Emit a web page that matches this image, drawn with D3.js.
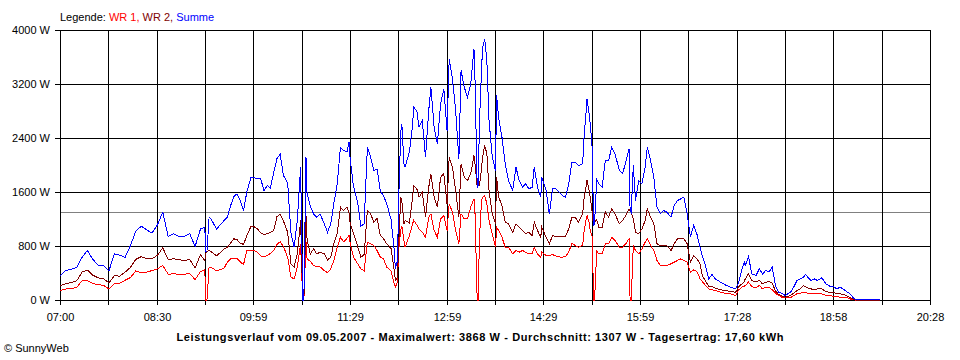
<!DOCTYPE html>
<html><head><meta charset="utf-8">
<script src="https://cdn.jsdelivr.net/npm/d3@7"></script>
<style>
html,body{margin:0;padding:0;background:#fff;}
svg{display:block;font-family:"Liberation Sans",Arial,sans-serif;font-size:11px;}
</style></head><body>
<svg id="chart" width="960" height="360"></svg>
<script>
// ---- DATA ----
const times = [
"07:00","07:05","07:10","07:15","07:20","07:25","07:30","07:35","07:40","07:45",
"07:50","07:55","08:00","08:05","08:10","08:15","08:20","08:25","08:30","08:35",
"08:40","08:45","08:50","08:55","09:00","09:05","09:10","09:14","09:15","09:16",
"09:18","09:20","09:25",
"09:32","09:35","09:38","09:41","09:44","09:47","09:50","09:53","09:57","10:00",
"10:03","10:06","10:09","10:12","10:15","10:18","10:21","10:24","10:27","10:31",
"10:34","10:37","10:40","10:43","10:45","10:46","10:48","10:49","10:52","10:55",
"10:58","11:01","11:05","11:08","11:11","11:14","11:17","11:20","11:23","11:26",
"11:28","11:29","11:32","11:36","11:39","11:42","11:45","11:48","11:51","11:54",
"11:57","12:00","12:03","12:07","12:10","12:11","12:13","12:14","12:16","12:17",
"12:19","12:20","12:24","12:27","12:28","12:31","12:33","12:36","12:39","12:42",
"12:44","12:47","12:50","12:53","12:56","12:59","13:01","13:04","13:07","13:10",
"13:12","13:15","13:18","13:21","13:24","13:25","13:27","13:28","13:29","13:31",
"13:32","13:34","13:36","13:38","13:41","13:44","13:45","13:47","13:50","13:53",
"13:56","14:00","14:03","14:06","14:09","14:12","14:15","14:18","14:20","14:23",
"14:26",
"14:27","14:31","14:34","14:37","14:40","14:43","14:46","14:49","14:52","14:55",
"14:58","15:01","15:05","15:06","15:08","15:09","15:11","15:12","15:14","15:15",
"15:16","15:18","15:20","15:23","15:26","15:29","15:32","15:35","15:39","15:42",
"15:45","15:48","15:49","15:50","15:52","15:54","15:57","16:00","16:03","16:05",
"16:08","16:11","16:14","16:17","16:20","16:23","16:27","16:30","16:33","16:36",
"16:39","16:42","16:45","16:48","16:51","16:54",
"16:56","16:59","17:02","17:05","17:08","17:13","17:18","17:22","17:27","17:30",
"17:33","17:35","17:36","17:39","17:42","17:46","17:49","17:52","17:55","17:58",
"18:01","18:04","18:07","18:10","18:13","18:18","18:21","18:24","18:27","18:30",
"18:32","18:34","18:37","18:40","18:43","18:47","18:51","18:55","18:58","19:01",
"19:04","19:08","19:11","19:14","19:17","19:20","19:29","19:41"
];

// WR 1 (red)
const wr1 = [
148,170,175,195,290,296,250,235,225,170,
250,255,300,340,440,410,420,444,470,518,
390,395,390,390,400,310,430,454,0,0,
494,490,440,
480,570,617,630,620,570,533,741,741,735,
716,660,650,667,700,740,830,870,800,640,
346,321,500,840,0,0,870,620,580,520,
500,500,444,410,469,600,790,938,870,920,
963,850,650,543,469,440,864,840,815,741,
642,617,494,440,247,198,272,741,1037,1100,
889,790,960,1136,1185,1120,1062,1012,938,1235,
1284,1037,938,1210,1259,1037,1432,1309,1037,840,
1284,1210,1210,1383,1506,1284,0,0,900,1470,
1531,1556,1432,1185,988,790,1086,1037,938,790,
790,691,741,716,741,716,691,700,790,691,
642,
716,667,667,680,660,645,642,650,716,850,
815,790,815,988,1185,1259,1160,1037,938,0,
0,730,691,691,840,840,938,889,790,790,
840,914,0,0,815,741,691,765,864,914,
815,741,593,518,518,518,543,568,593,617,
593,568,420,454,430,321,
280,225,173,158,148,123,104,99,74,158,
198,210,222,272,207,188,222,173,198,198,
158,109,74,49,40,40,74,99,109,123,
115,109,99,109,99,99,74,74,59,59,
49,49,40,20,10,0,0,0
];

// WR 2 (dark red)
const wr2 = [
222,250,265,290,420,450,375,335,320,260,
370,360,420,490,610,650,620,617,670,780,
605,620,605,590,610,480,680,593,700,720,
741,720,660,
765,790,850,914,900,850,830,960,1100,1090,
1060,1000,975,990,1012,1037,1240,1280,1180,1010,
543,494,700,1185,0,0,1250,900,690,765,
691,716,691,600,642,850,1000,1383,1333,1383,
1300,1150,1000,800,640,680,1333,1284,1160,1220,
963,914,840,770,444,296,346,790,1531,1480,
1136,1185,1150,1531,1704,1650,1531,1605,1235,1679,
1877,1531,1383,1827,1877,1432,2123,1975,1630,1235,
2025,1827,1778,1877,2148,2025,1679,1700,1700,1950,
2123,2296,2173,1630,1284,1136,1827,1530,1407,1160,
1136,1012,1136,1086,1037,988,1012,963,1160,1037,
938,
1086,938,840,963,950,950,950,948,1062,1235,
1235,1160,1284,1481,1679,1778,1630,1531,1284,1100,
1150,1200,1086,1086,1309,1235,1358,1284,1136,1185,
1259,1358,1333,1309,1210,1012,988,1062,1185,1358,
1235,1136,840,815,815,815,741,840,914,914,
914,840,568,667,617,543,
370,290,207,207,185,158,148,133,123,207,
247,280,321,395,296,272,296,247,272,280,
260,140,90,65,49,74,109,148,173,222,
205,188,173,158,173,173,128,123,123,99,
99,89,59,40,15,5,0,0
];

// Summe (blue)
const summe = [
370,445,460,490,640,740,610,520,515,440,
690,670,640,815,1030,1100,1047,1000,1120,1309,
950,990,950,950,990,800,1060,1086,720,720,
1234,1200,1060,
1185,1235,1407,1541,1580,1481,1333,1605,1830,1820,
1802,1802,1620,1704,1669,1900,2100,2170,1852,1740,
1000,790,1200,1975,0,0,2123,1580,1400,1284,
1235,1284,1136,1012,1136,1450,1728,2271,2222,2200,
2346,2100,1700,1450,1100,1136,2271,2123,1926,1950,
1630,1550,1432,1200,741,469,593,1450,2500,2617,
2025,1975,2200,2600,2864,2800,2568,2667,2123,2815,
3160,2568,2321,2913,3136,2518,3580,3284,2815,2099,
3407,3160,3012,3210,3728,3259,1679,1700,2600,3407,
3753,3868,3550,2667,2123,1926,3037,2700,2420,2025,
1778,1630,1975,1778,1679,1728,1654,1679,1975,1679,
1531,
1827,1630,1284,1654,1654,1605,1556,1531,1728,2049,
2049,2000,2025,2370,2765,2988,2765,2617,2222,1100,
1150,1790,1728,1679,2074,2074,2271,2173,1926,1877,
2049,2247,1333,1309,2000,1481,1778,1728,1975,2271,
2074,1827,1383,1284,1333,1309,1235,1407,1481,1506,
1531,1284,938,1111,988,790,
667,518,321,385,321,272,227,198,173,272,
469,568,520,652,395,370,469,395,444,420,
494,222,123,109,74,123,198,296,321,346,
385,346,296,321,296,336,247,207,207,173,
198,158,123,89,25,10,10,15
];

const yTickValues = [0, 800, 1600, 2400, 3200, 4000];
const xTickLabels = ["07:00","08:30","09:59","11:29","12:59","14:29","15:59","17:28","18:58","20:28"];
const xStart = "07:00", xEnd = "20:28";
const average = 1307;
const legendTitle = "Legende:";
const seriesNames = ["WR 1", "WR 2", "Summe"];
const titleText = "Leistungsverlauf vom 09.05.2007 - Maximalwert: 3868 W - Durchschnitt: 1307 W - Tagesertrag: 17,60 kWh";
const copyright = "\u00A9 SunnyWeb";

// ---- STYLE ----
const colors = ["#ff0000", "#800000", "#0000ff"];
const L = 60, R = 930, T = 30, B = 300;

if (!(times.length === wr1.length && wr1.length === wr2.length && wr2.length === summe.length)) {
  console.error("length mismatch", times.length, wr1.length, wr2.length, summe.length);
}

function toMin(s) { const [h, m] = s.split(":").map(Number); return h * 60 + m; }

const svg = d3.select("#chart");
const x = d3.scaleLinear().domain([toMin(xStart), toMin(xEnd)]).range([L, R]);
const y = d3.scaleLinear().domain([0, 4000]).range([B, T]);
const px = v => Math.round(v) + 0.5;

const nInt = (xTickLabels.length - 1) * 2;
const xTickValues = d3.range(nInt + 1).map(i => toMin(xStart) + i * (toMin(xEnd) - toMin(xStart)) / nInt);

// average line
svg.append("line")
  .attr("x1", L).attr("x2", R + 1)
  .attr("y1", px(y(average))).attr("y2", px(y(average)))
  .attr("stroke", "#808080").attr("shape-rendering", "crispEdges");

// grid
const grid = svg.append("g").attr("stroke", "#000").attr("shape-rendering", "crispEdges");
grid.selectAll("line.v").data(xTickValues).join("line").attr("class", "v")
  .attr("x1", d => px(x(d))).attr("x2", d => px(x(d)))
  .attr("y1", T).attr("y2", B + 1);
grid.selectAll("line.h").data(yTickValues).join("line").attr("class", "h")
  .attr("x1", L).attr("x2", R + 1)
  .attr("y1", d => px(y(d))).attr("y2", d => px(y(d)));

// axes
const xAxis = d3.axisBottom(x).tickValues(xTickValues).tickSize(5).tickSizeOuter(0).tickPadding(8)
  .tickFormat((d, i) => i % 2 === 0 ? xTickLabels[i / 2] : "");
const gx = svg.append("g").attr("transform", `translate(0,${B})`).call(xAxis);
gx.selectAll("line").attr("x1", 0).attr("x2", 0);
gx.selectAll(".tick").attr("transform", d => `translate(${px(x(d))},0)`);
gx.selectAll("line,path").attr("stroke", "#000").attr("shape-rendering", "crispEdges");
gx.selectAll("text").attr("fill", "#000").style("font-family", "Liberation Sans, Arial, sans-serif").style("font-size", "11px");

const yAxis = d3.axisLeft(y).tickValues(yTickValues).tickSize(5).tickSizeOuter(0).tickPadding(5)
  .tickFormat(d => d + " W");
const gy = svg.append("g").attr("transform", `translate(${L},0)`).call(yAxis);
gy.selectAll(".tick").attr("transform", d => `translate(0,${px(y(d))})`);
gy.selectAll("line,path").attr("stroke", "#000").attr("shape-rendering", "crispEdges");
gy.selectAll("text").attr("fill", "#000").style("font-family", "Liberation Sans, Arial, sans-serif").style("font-size", "11px");

// series
const series = [wr1, wr2, summe];
const line = d3.line().x(d => x(d.t)).y(d => y(d.v));
series.forEach((vals, k) => {
  const pts = times.map((t, i) => ({ t: toMin(t), v: vals[i] }));
  svg.append("path").datum(pts)
    .attr("d", line)
    .attr("transform", "translate(0.5,0.5)")
    .attr("fill", "none")
    .attr("stroke", colors[k])
    .attr("stroke-width", 1)
    .attr("shape-rendering", "crispEdges");
});

// legend
const lg = svg.append("text").attr("x", L).attr("y", 21).attr("fill", "#000");
lg.append("tspan").text(legendTitle + " ");
seriesNames.forEach((n, k) => {
  lg.append("tspan").attr("fill", colors[k]).text(n + (k < seriesNames.length - 1 ? ", " : ""));
});

// title
svg.append("text").attr("x", 480).attr("y", 341).attr("text-anchor", "middle")
  .attr("font-weight", "bold").attr("textLength", 607).attr("lengthAdjust", "spacing")
  .attr("fill", "#000").text(titleText);

// copyright
svg.append("text").attr("x", 4).attr("y", 352).attr("fill", "#000").text(copyright);
</script>
</body></html>
